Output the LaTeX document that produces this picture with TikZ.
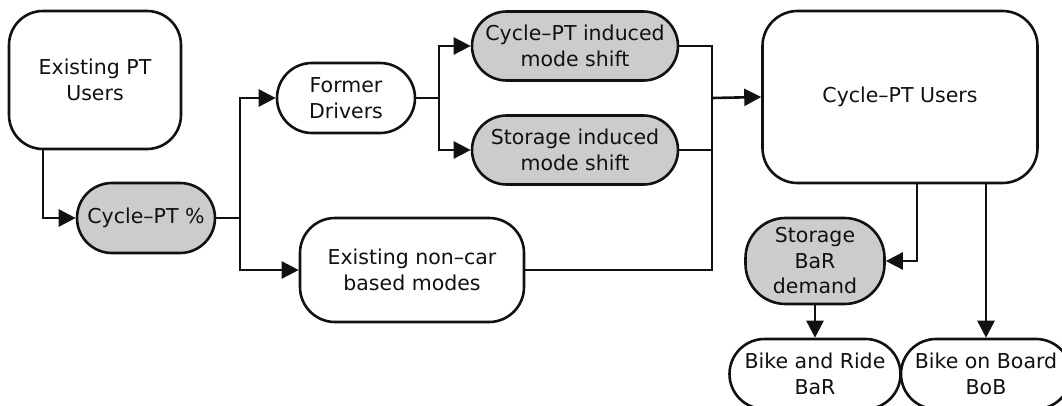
\documentclass[tikz,border=0pt]{standalone}
\usepackage{fontspec}
\setmainfont{DejaVu Sans}
\usetikzlibrary{arrows.meta}
\definecolor{nodegray}{HTML}{CCCCCC}
\definecolor{inkc}{HTML}{111111}
\tikzset{
  box/.style={draw=inkc, line width=2.6pt, align=center, inner sep=0pt, fill=white,
    text=inkc, font=\fontsize{20.5}{25.5}\selectfont},
  shadedbox/.style={box, fill=nodegray},
  link/.style={draw=inkc, line width=2.6pt},
  arr/.style={link, -{Triangle[length=17pt,width=17pt]}}
}
\begin{document}
\begin{tikzpicture}[x=1pt,y=-1pt]
\useasboundingbox (0,0) rectangle (1062,405);
\clip (0,0) rectangle (1062,405);

\node[box, rounded corners=34pt, minimum width=172pt, minimum height=138pt] (ept) at (95,80) {Existing PT\\Users};
\node[shadedbox, rounded corners=35pt, minimum width=138pt, minimum height=70pt] (cpt) at (146,218) {Cycle–PT \%};
\node[box, rounded corners=35pt, minimum width=138pt, minimum height=70pt] (fd) at (346,98) {Former\\Drivers};
\node[box, rounded corners=35pt, minimum width=224pt, minimum height=104pt] (enc) at (412,270) {Existing non–car\\based modes};
\node[shadedbox, rounded corners=34.5pt, minimum width=206pt, minimum height=69pt] (cims) at (575,46) {Cycle–PT induced\\mode shift};
\node[shadedbox, rounded corners=34.5pt, minimum width=206pt, minimum height=69pt] (sims) at (575,150) {Storage induced\\mode shift};
\node[box, rounded corners=35pt, minimum width=275pt, minimum height=172pt] (cptu) at (900,97) {Cycle–PT Users};
\node[shadedbox, rounded corners=40pt, minimum width=139pt, minimum height=86pt] (sbd) at (815,261) {Storage\\BaR\\demand};
\node[box, rounded corners=35pt, minimum width=171pt, minimum height=70pt] (bar) at (815,374) {Bike and Ride\\BaR};
\node[box, rounded corners=35pt, minimum width=170pt, minimum height=70pt] (bob) at (986,374) {Bike on Board\\BoB};

\coordinate (j1) at (240,218);
\coordinate (j2) at (439,98);
\coordinate (j3) at (712,98);

\draw[arr] (43,0 |- ept.south) |- (cpt.west);
\draw[link] (cpt.east) -- (j1);
\draw[arr] (j1) |- (fd.west);
\draw[arr] (j1) |- (enc.west);
\draw[link] (fd.east) -- (j2);
\draw[arr] (j2) |- (cims.west);
\draw[arr] (j2) |- (sims.west);
\draw[link] (cims.east) -| (j3);
\draw[link] (sims.east) -| (j3);
\draw[link] (enc.east) -| (j3);
\draw[arr] (j3) -- (cptu.west);
\draw[arr] (917,0 |- cptu.south) |- (sbd.east);
\draw[arr] (cptu.south -| bob.north) -- (bob.north);
\draw[arr] (sbd.south) -- (bar.north);
\end{tikzpicture}
\end{document}
